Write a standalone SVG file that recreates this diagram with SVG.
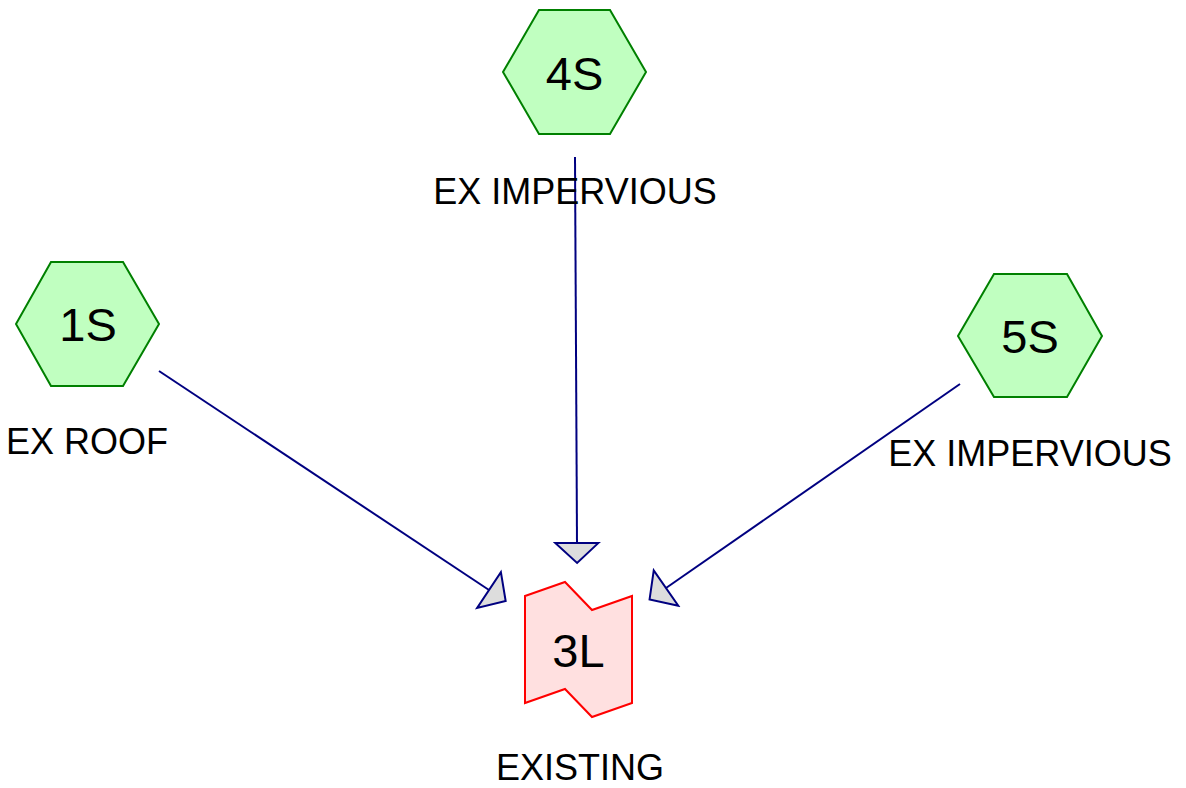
<svg xmlns="http://www.w3.org/2000/svg" width="1186" height="788" viewBox="0 0 1186 788">
  <style>
    .sub { fill: #c0ffc0; stroke: #008000; stroke-width: 2; }
    .pond { fill: #ffe0e0; stroke: #ff0000; stroke-width: 2; }
    .id { font-family: "Liberation Sans", Arial, sans-serif; font-size: 47px; fill: #000; text-anchor: middle; }
    .cap { font-family: "Liberation Sans", Arial, sans-serif; font-size: 36px; fill: #000; text-anchor: middle; }
    .link { fill: none; stroke: #000080; stroke-width: 2; marker-end: url(#head); }
  </style>
  <defs>
    <marker id="head" markerUnits="userSpaceOnUse" viewBox="-2 -24 26 48" markerWidth="26" markerHeight="48" refX="0" refY="0" orient="auto">
      <path d="M0,-21.5 L20,0 L0,21.5 Z" fill="#dddddd" stroke="#000080" stroke-width="2" stroke-linejoin="miter"/>
    </marker>
  </defs>
  <rect width="1186" height="788" fill="#ffffff"/>

  <!-- flow links into the pond -->
  <g id="connectors">
    <path class="link" d="M575,157 L577,543"/>
    <path class="link" d="M159,371 L489,590"/>
    <path class="link" d="M960,384 L666,588"/>
  </g>

  <g id="node-4S">
    <polygon class="sub" points="539,10 610,10 646,72 610,134 539,134 503,72"/>
    <text class="id" x="574.5" y="90">4S</text>
    <text class="cap" x="575" y="204">EX IMPERVIOUS</text>
  </g>

  <g id="node-1S">
    <polygon class="sub" points="51,262 123,262 159,324 123,386 51,386 16,324"/>
    <text class="id" x="88" y="341">1S</text>
    <text class="cap" x="87" y="454">EX ROOF</text>
  </g>

  <g id="node-5S">
    <polygon class="sub" points="994,274 1067,274 1102,336 1067,397 994,397 958,336"/>
    <text class="id" x="1030" y="353">5S</text>
    <text class="cap" x="1030" y="466">EX IMPERVIOUS</text>
  </g>

  <g id="node-3L">
    <polygon class="pond" points="525,596 565,582 592,610 632,596 632,703 592,717 565,689 525,703"/>
    <text class="id" x="578.5" y="667">3L</text>
    <text class="cap" x="580" y="780">EXISTING</text>
  </g>
</svg>
